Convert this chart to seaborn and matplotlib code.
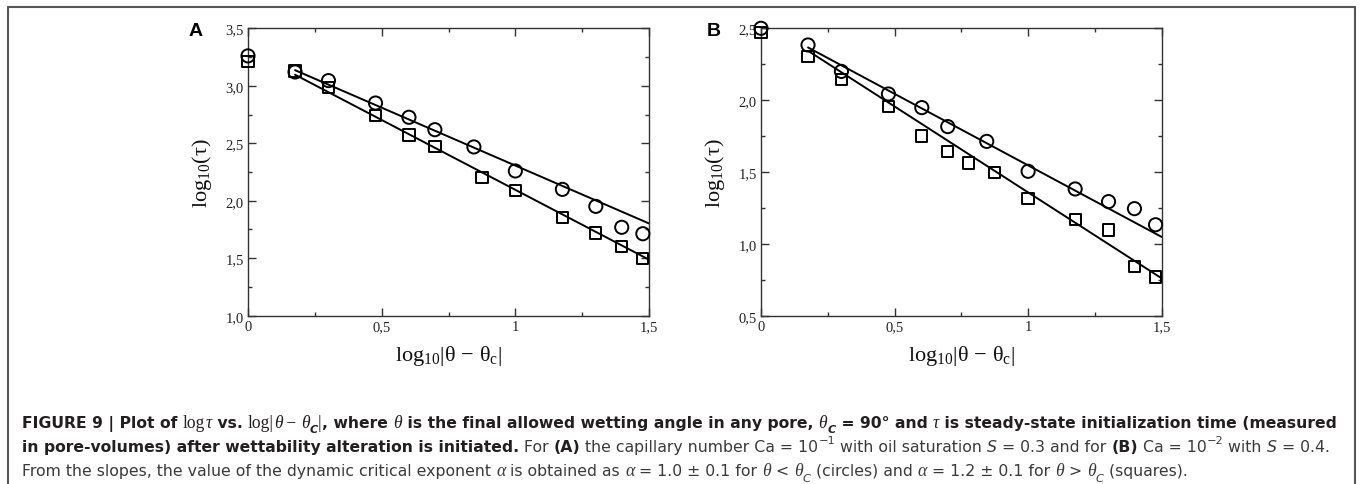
import numpy as np
import pandas as pd
import matplotlib
matplotlib.use("Agg")
import matplotlib.pyplot as plt
from matplotlib.ticker import MultipleLocator, FuncFormatter
from matplotlib.lines import Line2D
import seaborn as sns

# ---------------- data ----------------
# Panel A
a_circ_x = [0.0, 0.176, 0.301, 0.477, 0.602, 0.699, 0.845, 1.0, 1.176, 1.301, 1.398, 1.477]
a_circ_y = [3.26, 3.12, 3.045, 2.85, 2.726, 2.618, 2.468, 2.259, 2.099, 1.951, 1.769, 1.713]
a_sq_x = [0.0, 0.176, 0.301, 0.477, 0.602, 0.699, 0.875, 1.0, 1.176, 1.301, 1.398, 1.477]
a_sq_y = [3.21, 3.129, 2.984, 2.74, 2.572, 2.47, 2.204, 2.088, 1.856, 1.719, 1.603, 1.499]
# fitted lines (slope, intercept) for circles and squares
a_fit_circ = (-1.007, 3.313)
a_fit_sq = (-1.215, 3.310)

# Panel B
b_circ_x = [0.0, 0.176, 0.301, 0.477, 0.602, 0.699, 0.845, 1.0, 1.176, 1.301, 1.398, 1.477]
b_circ_y = [2.50, 2.384, 2.20, 2.043, 1.948, 1.816, 1.713, 1.505, 1.382, 1.294, 1.245, 1.133]
b_sq_x = [0.0, 0.176, 0.301, 0.477, 0.602, 0.699, 0.778, 0.875, 1.0, 1.176, 1.301, 1.398, 1.477]
b_sq_y = [2.472, 2.305, 2.145, 1.957, 1.751, 1.644, 1.563, 1.498, 1.314, 1.168, 1.096, 0.841, 0.769]
b_fit_circ = (-0.996, 2.542)
b_fit_sq = (-1.196, 2.554)

fit_x_range = [0.176, 1.5]

x_lim = (0.0, 1.5)
a_ylim = (1.0, 3.5)
b_ylim = (0.5, 2.5)
panel_labels = ["A", "B"]
ylabel = r"$\mathrm{log}_{10}(\mathrm{τ})$"
xlabel = r"$\mathrm{log}_{10}|\mathrm{\theta}\,-\,\mathrm{\theta}_\mathrm{c}|$"

# ---------------- style ----------------
sns.set_theme(style="ticks")
plt.rcParams['font.family'] = ['Liberation Sans', 'DejaVu Sans']
plt.rcParams['mathtext.fontset'] = 'custom'
plt.rcParams['mathtext.rm'] = 'Liberation Serif'
plt.rcParams['mathtext.it'] = 'Liberation Serif:italic'
plt.rcParams['mathtext.bf'] = 'Liberation Serif:bold'

DPI = 100
W, H = 1360, 485
fig = plt.figure(figsize=(W / DPI, H / DPI), dpi=DPI)
fig.patch.set_facecolor("white")

def px2fig(x0, y0, x1, y1):
    return [x0 / W, 1 - y1 / H, (x1 - x0) / W, (y1 - y0) / H]

axA = fig.add_axes(px2fig(248, 29.3, 649, 316.7))
axB = fig.add_axes(px2fig(761, 29.3, 1161.7, 316.7))

def xfmt(v, pos):
    s = "%g" % round(v, 3)
    return s.replace(".", ",")

def yfmt(v, pos):
    return ("%.1f" % v).replace(".", ",")

def draw_panel(ax, cx, cy, sx, sy, fc, fs, ylim, label, label_x):
    fx = np.array(fit_x_range)
    dline = pd.DataFrame({
        "x": np.concatenate([fx, fx]),
        "y": np.concatenate([fc[0] * fx + fc[1], fs[0] * fx + fs[1]]),
        "g": ["c", "c", "s", "s"],
    })
    for g in ["c", "s"]:
        d = dline[dline.g == g]
        sns.lineplot(data=d, x="x", y="y", ax=ax, color="black", lw=1.4,
                     estimator=None, sort=False, zorder=2)
    dc = pd.DataFrame({"x": cx, "y": cy})
    ds = pd.DataFrame({"x": sx, "y": sy})
    sns.scatterplot(data=dc, x="x", y="y", ax=ax, marker="o", s=90,
                    facecolor="none", edgecolor="black", linewidth=1.4,
                    zorder=3, clip_on=False)
    sns.scatterplot(data=ds, x="x", y="y", ax=ax, marker="s", s=66,
                    facecolor="none", edgecolor="black", linewidth=1.4,
                    zorder=3, clip_on=False)
    ax.set_xlim(*x_lim)
    ax.set_ylim(*ylim)
    ax.xaxis.set_major_locator(MultipleLocator(0.5))
    ax.xaxis.set_minor_locator(MultipleLocator(0.25))
    ax.yaxis.set_major_locator(MultipleLocator(0.5))
    ax.yaxis.set_minor_locator(MultipleLocator(0.25))
    ax.xaxis.set_major_formatter(FuncFormatter(xfmt))
    ax.yaxis.set_major_formatter(FuncFormatter(yfmt))
    ax.tick_params(which="both", direction="in", top=True, right=True,
                   color="#333333", width=1.0)
    ax.tick_params(which="major", length=6, pad=3)
    ax.tick_params(which="minor", length=3)
    for t in ax.get_xticklabels() + ax.get_yticklabels():
        t.set_fontfamily("Liberation Serif")
        t.set_fontsize(10.5)
        t.set_color("#222222")
    for sp in ax.spines.values():
        sp.set_color("#333333")
        sp.set_linewidth(1.0)
    ax.set_xlabel(xlabel, fontsize=16, labelpad=7, color="#111111")
    ax.set_ylabel(ylabel, fontsize=16, labelpad=8, color="#111111")
    fig.text(label_x / W, 1 - 32 / H, label, fontsize=14, fontweight="bold",
             ha="center", va="center", color="black")

draw_panel(axA, a_circ_x, a_circ_y, a_sq_x, a_sq_y, a_fit_circ, a_fit_sq,
           a_ylim, panel_labels[0], 196)
draw_panel(axB, b_circ_x, b_circ_y, b_sq_x, b_sq_y, b_fit_circ, b_fit_sq,
           b_ylim, panel_labels[1], 714)

# ---------------- outer frame ----------------
fc_ = "#555555"
fig.add_artist(Line2D([8 / W, 1355 / W], [1 - 8 / H, 1 - 8 / H], transform=fig.transFigure, color=fc_, lw=1.5))
fig.add_artist(Line2D([8 / W, 8 / W], [1 - 8 / H, 0], transform=fig.transFigure, color=fc_, lw=1.5))
fig.add_artist(Line2D([1355 / W, 1355 / W], [1 - 8 / H, 0], transform=fig.transFigure, color=fc_, lw=1.5))

# ---------------- caption ----------------
BSANS = "DejaVu Sans"
RSANS = "DejaVu Sans"
SERIF = "Liberation Serif"
BOLD = dict(family=BSANS, weight="bold", color="#231f20", grp="b")
REG = dict(family=RSANS, weight="normal", color="#3a3a3a", grp="r")
SER = dict(family=SERIF, weight="normal", color="#231f20", grp="b", ser=True)
SERI = dict(family=SERIF, weight="normal", style="italic", color="#231f20", grp="b", ser=True)
SERIR = dict(family=SERIF, weight="normal", style="italic", color="#3a3a3a", grp="r", ser=True)
SUBB = dict(family=BSANS, weight="bold", style="italic", color="#231f20", sub=True, grp="b")
SUBR = dict(family=RSANS, weight="normal", style="italic", color="#3a3a3a", sub=True, grp="r")
SUPR = dict(family=RSANS, weight="normal", color="#3a3a3a", sup=True, grp="r")
ITR = dict(family=RSANS, weight="normal", style="italic", color="#3a3a3a", grp="r")
BOLDR = dict(family=RSANS, weight="bold", color="#231f20", grp="r")

line1 = [("FIGURE 9 | Plot of ", BOLD), ("log", SER), ("τ", SERI), (" vs. ", BOLD),
         ("log|", SER), ("θ", SERI), (" − ", SER), ("θ", SERI), ("C", SUBB),
         ("|", SER), (", where ", BOLD), ("θ", SERI),
         (" is the final allowed wetting angle in any pore, ", BOLD), ("θ", SERI),
         ("C", SUBB), (" = 90° and ", BOLD), ("τ", SERI),
         (" is steady-state initialization time (measured", BOLD)]
line2 = [("in pore-volumes) after wettability alteration is initiated.", BOLD),
         (" For ", REG), ("(A)", BOLDR), (" the capillary number Ca = 10", REG),
         ("−1", SUPR), (" with oil saturation ", REG), ("S", ITR),
         (" = 0.3 and for ", REG), ("(B)", BOLDR), (" Ca = 10", REG), ("−2", SUPR),
         (" with ", REG), ("S", ITR), (" = 0.4.", REG)]
line3 = [("From the slopes, the value of the dynamic critical exponent ", REG),
         ("α", SERIR), (" is obtained as ", REG), ("α", SERIR), (" = 1.0 ± 0.1 for ", REG),
         ("θ", SERIR), (" < ", REG), ("θ", SERIR), ("C", SUBR), (" (circles) and ", REG),
         ("α", SERIR), (" = 1.2 ± 0.1 for ", REG), ("θ", SERIR), (" > ", REG),
         ("θ", SERIR), ("C", SUBR), (" (squares).", REG)]

renderer = fig.canvas.get_renderer()

def draw_line(segs, x0_px, y_px, sizes, keep=True):
    x = x0_px
    made = []
    for txt, st in segs:
        st = dict(st)
        sub = st.pop("sub", False)
        sup = st.pop("sup", False)
        grp = st.pop("grp")
        ser = st.pop("ser", False)
        size = sizes[grp]
        fsz = size * (0.72 if (sub or sup) else 1.0)
        dy = -size * 0.35 if sub else (size * 0.5 if sup else 0)
        if ser:
            fsz *= 1.12
        t = fig.text(x / W, 1 - (y_px - dy * DPI / 72.0) / H, txt, fontsize=fsz,
                     ha="left", va="baseline", **st)
        made.append(t)
        bb = t.get_window_extent(renderer=renderer)
        x += bb.width
    if not keep:
        for t in made:
            t.remove()
    return x

sizes = {"b": 10.0, "r": 10.0}
for _ in range(3):
    e3 = draw_line(line3, 22, 476, sizes, keep=False)
    sizes["r"] *= (1197 - 22) / (e3 - 22)
    e1 = draw_line(line1, 22, 428, sizes, keep=False)
    sizes["b"] *= (1342 - 22) / (e1 - 22)

draw_line(line1, 22, 428, sizes)
draw_line(line2, 22, 452, sizes)
draw_line(line3, 22, 476, sizes)

fig.savefig("out.png", dpi=DPI, facecolor="white")
